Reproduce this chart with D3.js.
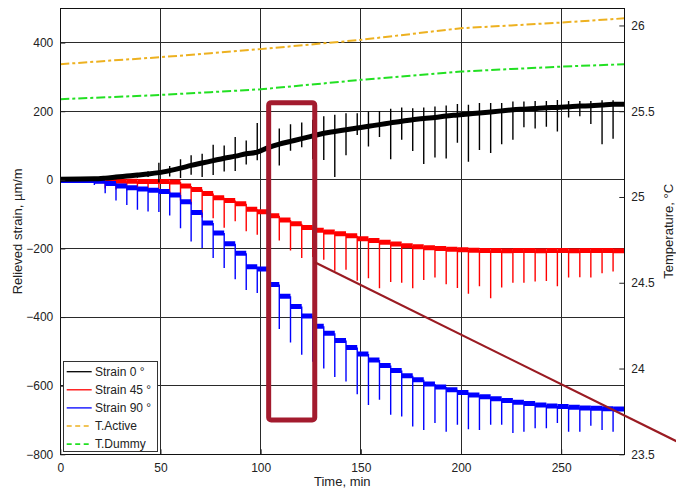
<!DOCTYPE html>
<html><head><meta charset="utf-8">
<script src="https://cdn.jsdelivr.net/npm/d3@7"></script>
<style>
body{margin:0;background:#fff;}
svg text{font-family:"Liberation Sans",Arial,Helvetica,sans-serif;fill:#222;}
</style></head><body>
<svg id="chart" width="676" height="491"></svg>
<script>
// ---- data ----
const stepTimes = [17,22.4,27.8,33.2,38.5,43.8,49.2,54.6,60,65.3,70.8,76.3,81.8,87.3,92.8,98.3,103.8,109.3,114.9,120.5,126,131.5,137,142.6,148.2,153.8,159.3,164.9,170.4,175.9,181.4,187,192.6,198.2,203.7,209.2,214.8,220.3,225.9,231.4,237,242.6,248.1,253.7,259.3,264.8,270.4,275.9];
const endTime = 281.5;
// plateau level before the first step, then after each step
const strain0Level = [2,3,5,8,11,14,17,21,27,34,42,49,56,63,69,76,81,94,104,112,120,128,136,141,146,151,156,161,166,171,175,179,182,186,189,192,195,198,201,204,206,208,210,211,213,215,216,218,220];
const strain0SpikeHigh = [5,8,12,15,20,25,50,40,60,72,76,102,100,125,115,166,150,150,162,167,175,185,190,194,194,199,201,207,211,209,211,214,217,221,219,224,224,224,228,228,230,230,233,230,230,230,232,232];
const strain0SpikeLow = [0,0,2,5,6,8,-8,10,5,15,8,14,24,26,45,57,40,42,85,95,60,58,8,72,131,97,125,60,117,84,46,65,62,108,53,87,78,104,117,153,150,155,141,182,185,163,104,120];
const strain45Level = [0,-3,-3,-4,-4,-5,-5,-5,-6,-18,-28,-40,-52,-60,-70,-86,-93,-105,-117,-128,-139,-147,-152,-157,-163,-172,-177,-182,-187,-192,-195,-198,-200,-202,-204,-205,-206,-206,-207,-206,-206,-207,-206,-206,-207,-206,-206,-206,-207];
const strain45SpikeLow = [-8,-25,-28,-30,-30,-32,-32,-38,-60,-72,-110,-112,-140,-121,-150,-160,-170,-177,-206,-228,-225,-233,-265,-262,-294,-287,-316,-298,-300,-316,-292,-285,-304,-315,-332,-310,-345,-314,-300,-300,-296,-295,-310,-285,-284,-285,-272,-267];
const strain90Level = [-2,-4,-11,-18,-23,-27,-30,-34,-44,-64,-95,-126,-155,-186,-214,-253,-260,-305,-339,-369,-397,-427,-447,-468,-489,-508,-525,-541,-556,-571,-583,-595,-604,-612,-620,-627,-632,-638,-643,-648,-652,-656,-659,-661,-663,-665,-666,-667,-668];
const strain90SpikeLow = [-15,-39,-60,-73,-87,-92,-94,-104,-141,-180,-199,-228,-257,-290,-321,-330,-400,-435,-474,-510,-530,-550,-575,-588,-625,-656,-641,-685,-690,-719,-729,-709,-734,-714,-727,-729,-714,-714,-738,-734,-724,-724,-709,-734,-734,-717,-729,-734];
const tempTimes = [0,25,50,75,100,125,150,175,200,225,250,275,281.5];
const tActive = [25.774,25.795,25.815,25.838,25.862,25.889,25.916,25.95,25.984,26.0,26.017,26.036,26.042];
const tDummy = [25.570,25.582,25.595,25.611,25.628,25.655,25.683,25.707,25.731,25.746,25.760,25.771,25.774];
const xTicks = [0,50,100,150,200,250];
const yTicks = [-800,-600,-400,-200,0,200,400];
const y2Ticks = [23.5,24,24.5,25,25.5,26];
const legendNames = ["Strain 0 °","Strain 45 °","Strain 90 °","T.Active","T.Dummy"];
const xTitle = "Time, min", yTitle = "Relieved strain, µm/m", y2Title = "Temperature, °C";
// annotation (in data units)
const annotBox = {t0:104, t1:127, v0:225, v1:-700};
const annotLine = {t0:127, v0:-240, t1:307.5, v1:-762};

// ---- chart ----
const W = 676, H = 491;
const L = 60.3, R = 624.3, T = 8.3, B = 454.3;
const svg = d3.select("#chart");
const x = d3.scaleLinear().domain([0, endTime]).range([L, R]);
const y = d3.scaleLinear().domain([-800, 500]).range([B, T]);
const y2 = d3.scaleLinear().domain([23.5, 26.1]).range([B, T]);

const colors = {s0:"#000000", s45:"#ff0000", s90:"#0000ff", ta:"#edb120", td:"#22e022"};

svg.append("rect").attr("x",0).attr("y",0).attr("width",W).attr("height",H).attr("fill","#fff");
svg.append("defs").append("clipPath").attr("id","clip")
  .append("rect").attr("x",L).attr("y",T).attr("width",R-L).attr("height",B-T);

// grid
const grid = svg.append("g").attr("stroke","#2a2a2a").attr("stroke-width",1).attr("shape-rendering","crispEdges");
grid.selectAll("line.v").data(xTicks.filter(d=>d>0)).join("line").attr("class","v")
  .attr("x1",d=>x(d)).attr("x2",d=>x(d)).attr("y1",T).attr("y2",B);
grid.selectAll("line.h").data(yTicks.filter(d=>d>-800)).join("line").attr("class","h")
  .attr("y1",d=>y(d)).attr("y2",d=>y(d)).attr("x1",L).attr("x2",R);

const plot = svg.append("g").attr("clip-path","url(#clip)");

// temperature lines
function tempSeries(vals){ return tempTimes.map((t,i)=>({t, v: vals[i]})); }
const tLine = d3.line().x(d=>x(d.t)).y(d=>y2(d.v));
plot.append("path").datum(tempSeries(tActive)).attr("d",tLine).attr("fill","none")
  .attr("stroke",colors.ta).attr("stroke-width",2).attr("stroke-dasharray","9,3,3,3");
plot.append("path").datum(tempSeries(tDummy)).attr("d",tLine).attr("fill","none")
  .attr("stroke",colors.td).attr("stroke-width",2).attr("stroke-dasharray","9,3,3,3");

// strain series: plateau segments between steps + spikes at each step
function segments(levels){
  const bounds = [0, ...stepTimes, endTime];
  return levels.map((v,i)=>({t0: bounds[i], t1: bounds[i+1], v}));
}
function drawSeries(levels, highs, lows, color, width, smooth){
  const g = plot.append("g");
  if (smooth){
    const pts = [{t:0, v:levels[0]}, ...stepTimes.map((t,k)=>({t, v:levels[k+1]})), {t:endTime, v:levels[levels.length-1]}];
    g.append("path").datum(pts)
      .attr("d", d3.line().x(d=>x(d.t)).y(d=>y(d.v)).curve(d3.curveMonotoneX))
      .attr("fill","none").attr("stroke",color).attr("stroke-width",width);
  } else {
    g.selectAll("line.seg").data(segments(levels)).join("line").attr("class","seg")
      .attr("x1",d=>x(d.t0)).attr("x2",d=>x(d.t1))
      .attr("y1",d=>y(d.v)).attr("y2",d=>y(d.v))
      .attr("stroke",color).attr("stroke-width",width);
  }
  g.selectAll("line.spk").data(stepTimes.map((t,k)=>({t, hi: highs ? highs[k] : levels[k], lo: lows[k]})))
    .join("line").attr("class","spk")
    .attr("x1",d=>x(d.t)).attr("x2",d=>x(d.t))
    .attr("y1",d=>y(d.hi)).attr("y2",d=>y(d.lo))
    .attr("stroke",color).attr("stroke-width",1.4);
}
drawSeries(strain45Level, null, strain45SpikeLow, colors.s45, 5, false);
drawSeries(strain90Level, null, strain90SpikeLow, colors.s90, 5, false);
drawSeries(strain0Level, strain0SpikeHigh, strain0SpikeLow, colors.s0, 5, true);

// frame
svg.append("rect").attr("x",L).attr("y",T).attr("width",R-L).attr("height",B-T)
  .attr("fill","none").attr("stroke","#111").attr("stroke-width",1).attr("shape-rendering","crispEdges");

// axes
const fs = "12px";
const ax = svg.append("g").attr("transform",`translate(0,${B})`)
  .call(d3.axisBottom(x).tickValues(xTicks).tickSize(-5).tickPadding(9).tickFormat(d3.format("d")));
const ay = svg.append("g").attr("transform",`translate(${L},0)`)
  .call(d3.axisLeft(y).tickValues(yTicks).tickSize(-5).tickPadding(7).tickFormat(d3.format("d")));
const ay2 = svg.append("g").attr("transform",`translate(${R},0)`)
  .call(d3.axisRight(y2).tickValues(y2Ticks).tickSize(-5).tickPadding(7).tickFormat(d=>String(d)));
[ax,ay,ay2].forEach(a=>{
  a.select(".domain").remove();
  a.selectAll("line").attr("stroke","#222");
  a.selectAll("text").attr("font-size",fs).attr("fill","#222")
   .attr("font-family",'"Liberation Sans",Arial,sans-serif');
});

// titles
svg.append("text").attr("x",(L+R)/2).attr("y",486).attr("text-anchor","middle")
  .attr("font-size","13px").text(xTitle);
svg.append("text").attr("transform",`translate(22,${(T+B)/2}) rotate(-90)`).attr("text-anchor","middle")
  .attr("font-size","13px").text(yTitle);
svg.append("text").attr("transform",`translate(673,${(T+B)/2}) rotate(-90)`).attr("text-anchor","middle")
  .attr("font-size","13px").text(y2Title);

// legend
const legItems = legendNames.map((n,i)=>({n, c:[colors.s0,colors.s45,colors.s90,colors.ta,colors.td][i], dash: i>=3}));
const lg = svg.append("g");
lg.append("rect").attr("x",63.5).attr("y",361.5).attr("width",94).attr("height",90)
  .attr("fill","#fff").attr("stroke","#333").attr("stroke-width",1);
const li = lg.selectAll("g.item").data(legItems).join("g").attr("class","item")
  .attr("transform",(d,i)=>`translate(0,${371.7 + i*18.1})`);
li.append("line").attr("x1",66.7).attr("x2",91.7).attr("y1",0).attr("y2",0)
  .attr("stroke",d=>d.c).attr("stroke-width",d=>d.dash?1.6:1.3)
  .attr("stroke-dasharray",d=>d.dash?"5,3.5":null);
li.append("text").attr("x",95).attr("y",0).attr("dy","0.35em").attr("font-size","12px").text(d=>d.n);

// annotation
svg.append("rect").attr("x",x(annotBox.t0)).attr("y",y(annotBox.v0))
  .attr("width",x(annotBox.t1)-x(annotBox.t0)).attr("height",y(annotBox.v1)-y(annotBox.v0))
  .attr("rx",2.5).attr("fill","none").attr("stroke","#a31b2e").attr("stroke-width",5);
svg.append("line").attr("x1",x(annotLine.t0)).attr("y1",y(annotLine.v0))
  .attr("x2",x(annotLine.t1)).attr("y2",y(annotLine.v1))
  .attr("stroke","#9a1b22").attr("stroke-width",2.2);
</script>
</body></html>
